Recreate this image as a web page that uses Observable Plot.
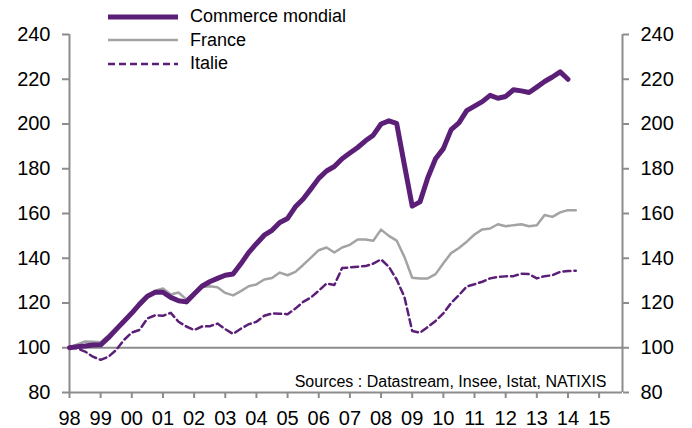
<!DOCTYPE html>
<html>
<head>
<meta charset="utf-8">
<script src="https://cdn.jsdelivr.net/npm/d3@7"></script>
<script src="https://cdn.jsdelivr.net/npm/@observablehq/plot@0.6"></script>
<style>
  html, body { margin: 0; padding: 0; background: #fff; }
  #wrap { position: relative; width: 692px; height: 428px; font-family: "Liberation Sans", Arial, sans-serif; }
  #legend { position: absolute; left: 108px; top: 5px; font-size: 18px; color: #000; }
  .row { display: flex; align-items: center; height: 23.5px; }
  .row svg { width: 70px; height: 10px; margin-right: 12px; }
</style>
</head>
<body>
<div id="wrap"><div id="legend"></div></div>
<script>
// ---- data (quarterly index, 1998Q1 = 100) ----
const startYear = 1998;
const seriesNames = ["Commerce mondial", "France", "Italie"];
const commerceMondial = [
  100, 100.5, 100.8, 101.2,
  101.3, 104.5, 108.2, 111.8,
  115.5, 119.5, 123, 124.8,
  124.8, 122.5, 121, 120.5,
  124, 127.5, 129.5, 131,
  132.4, 133, 137.5, 142.5,
  146.5, 150.3, 152.5, 156,
  157.8, 163, 166.5, 171,
  175.7, 179, 181, 184.5,
  187, 189.5, 192.5, 195,
  200, 201.4, 200.3, 181.7,
  163.3, 165.2, 176, 184.5,
  189, 197.5, 200.5, 206,
  208, 210, 212.8, 211.5,
  212.3, 215.3, 214.8, 214.1,
  216.5, 219, 221, 223.3,
  220
];
const france = [
  100, 101.5, 102.8, 102.7,
  102.5, 105.5, 109, 112.5,
  115.5, 118.7, 122.5, 125.5,
  126.5, 123.8, 124.7, 121.6,
  124.5, 127.2, 127.5, 127,
  124.5, 123.4, 125.3, 127.5,
  128.3, 130.5, 131.2, 133.6,
  132.4, 133.9, 137, 140.3,
  143.6, 144.8, 142.6, 144.8,
  146, 148.4, 148.4, 147.8,
  152.8, 150, 147.9, 140.6,
  131.3, 131, 131, 132.9,
  137.8, 142.3, 144.6, 147.4,
  150.6, 152.9, 153.3, 155.2,
  154.3, 154.8, 155.2, 154.3,
  154.7, 159.3, 158.5, 160.5,
  161.5, 161.5
];
const italie = [
  100, 99.7, 98.3, 96,
  94.6, 96, 99, 103.5,
  106.8, 108, 113.1, 114.5,
  114.3, 115.6, 111.6, 109.5,
  107.9, 109.5, 109.6, 110.8,
  108.3, 106.2, 108.5, 110.5,
  111.6, 114.3, 115.3, 115.2,
  115, 117.5, 120.5, 122.5,
  125.5, 128.7, 128, 135.6,
  135.9, 136.2, 136.5, 137.6,
  139.5, 136.2, 130.5, 122.7,
  107.5, 106.7, 109.3, 112,
  115.4, 120, 123.5, 127.4,
  128.4, 129.5, 131, 131.7,
  131.9, 132, 133.1, 132.9,
  131, 132, 132.4, 133.9,
  134.3, 134.4
];
const xTicks = [1998, 1999, 2000, 2001, 2002, 2003, 2004, 2005, 2006, 2007, 2008, 2009, 2010, 2011, 2012, 2013, 2014, 2015];
const xDomain = [1998, 2015.75];
const yTicks = [80, 100, 120, 140, 160, 180, 200, 220, 240];
const yDomain = [80, 240];
const baseline = 100;
const sourceText = "Sources : Datastream, Insee, Istat, NATIXIS";

// ---- styles ----
const purple = "#5b1f78";
const gray = "#a3a3a3";
const axisGray = "#8c8c8c";

const toRows = (arr) => arr.map((v, i) => ({x: startYear + i / 4, y: v}));
const wRows = toRows(commerceMondial);
const fRows = toRows(france);
const iRows = toRows(italie);

const chart = Plot.plot({
  width: 692,
  height: 428,
  marginLeft: 69,
  marginRight: 70,
  marginTop: 34,
  marginBottom: 36,
  style: {fontFamily: "'Liberation Sans', Arial, sans-serif", fontSize: "20px", color: "#000", background: "#fff"},
  x: {domain: xDomain},
  y: {domain: yDomain},
  marks: [
    Plot.ruleY([baseline], {stroke: axisGray, strokeWidth: 2}),
    Plot.ruleX([xDomain[0]], {stroke: axisGray, strokeWidth: 2}),
    Plot.ruleX([xDomain[1]], {stroke: axisGray, strokeWidth: 2}),
    Plot.ruleY([yDomain[0]], {stroke: axisGray, strokeWidth: 2}),
    Plot.axisY({anchor: "left", ticks: yTicks, tickSize: 7, tickPadding: 12, fontSize: 20, stroke: axisGray, strokeWidth: 2, fill: "#000", label: null}),
    Plot.axisY({anchor: "right", ticks: yTicks, tickSize: 6, tickPadding: 12, fontSize: 20, stroke: axisGray, strokeWidth: 2, fill: "#000", label: null}),
    Plot.axisX({anchor: "bottom", ticks: xTicks, tickSize: 6, tickPadding: 12, fontSize: 20, stroke: axisGray, strokeWidth: 2, fill: "#000", label: null,
      tickFormat: d => String(d % 100).padStart(2, "0")}),
    Plot.lineY(iRows, {x: "x", y: "y", stroke: purple, strokeWidth: 2.5, strokeDasharray: "7,4"}),
    Plot.lineY(fRows, {x: "x", y: "y", stroke: gray, strokeWidth: 2.5}),
    Plot.lineY(wRows, {x: "x", y: "y", stroke: purple, strokeWidth: 5}),
    Plot.text([sourceText], {frameAnchor: "bottom-right", text: d => d, dx: -16, dy: -6, textAnchor: "end", lineAnchor: "bottom", fontSize: 16, fill: "#000"})
  ]
});
document.getElementById("wrap").prepend(chart);

// ---- legend ----
const legendDefs = [
  {name: seriesNames[0], stroke: purple, width: 5, dash: null},
  {name: seriesNames[1], stroke: gray, width: 2.5, dash: null},
  {name: seriesNames[2], stroke: purple, width: 2.5, dash: "7,4"}
];
const legend = d3.select("#legend");
for (const d of legendDefs) {
  const row = legend.append("div").attr("class", "row");
  const s = row.append("svg").attr("viewBox", "0 0 70 10");
  s.append("line").attr("x1", 0).attr("x2", 70).attr("y1", 5).attr("y2", 5)
    .attr("stroke", d.stroke).attr("stroke-width", d.width)
    .attr("stroke-dasharray", d.dash);
  row.append("span").text(d.name);
}
</script>
</body>
</html>
